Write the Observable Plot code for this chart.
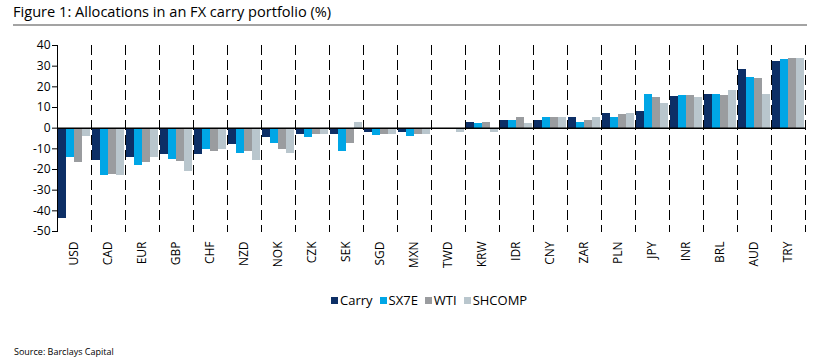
<!DOCTYPE html>
<html><head><meta charset="utf-8">
<script src="https://cdn.jsdelivr.net/npm/d3@7"></script>
<script src="https://cdn.jsdelivr.net/npm/@observablehq/plot@0.6"></script>
<style>
body{margin:0;background:#fff;font-family:"Open Sans",sans-serif;color:#000;}
#wrap{position:relative;width:815px;height:364px;overflow:hidden;background:#fff;}
#title{position:absolute;left:13px;top:1px;font-size:14.6px;white-space:nowrap;}
#rule{position:absolute;left:13px;top:24px;width:794px;height:2px;background:#a3a3a3;}
#chart{position:absolute;left:0;top:0;}
#legend{position:absolute;left:331px;top:291px;display:flex;align-items:center;font-size:13px;white-space:nowrap;}
#legend .item{display:flex;align-items:center;margin-right:7px;}
#legend .sw{display:inline-block;width:7px;height:7px;margin-right:2px;}
#source{position:absolute;left:14px;top:345px;font-size:9px;white-space:nowrap;}
</style></head><body>
<div id="wrap">
<div id="title">Figure 1: Allocations in an FX carry portfolio (%)</div>
<div id="rule"></div>
<div id="chart"></div>
<div id="legend"></div>
<div id="source">Source: Barclays Capital</div>
</div>
<script>
const categories = ["USD","CAD","EUR","GBP","CHF","NZD","NOK","CZK","SEK","SGD","MXN","TWD","KRW","IDR","CNY","ZAR","PLN","JPY","INR","BRL","AUD","TRY"];
const series = ["Carry","SX7E","WTI","SHCOMP"];
const colors = ["#0d2f66","#00a6e6","#9a9c9f","#b9c6cd"];
const carry  = [-43.6,-15.8,-14,-12.9,-12.9,-7.7,-4.5,-3.3,-2.9,-1.9,-1.9,-0.5,2.9,3.8,3.8,5,6.9,8.3,15.5,16.5,28.6,32.5];
const sx7e   = [-14.4,-23.1,-18.1,-15,-10.1,-12.4,-7.5,-4.5,-11.4,-3.6,-4,-0.5,2.4,3.8,5,2.9,5.4,16.5,16,16.5,24.3,33.4];
const wti    = [-16.8,-22.5,-16.8,-16,-11.4,-11.4,-10.2,-3.3,-7.3,-2.9,-2.9,-0.3,2.9,5,5,3.5,6.4,14.6,16,16,23.8,33.8];
const shcomp = [-4,-23.1,-14,-21.2,-10.1,-15.8,-12.4,-3.3,2.9,-2.9,-2.9,-2,-2,2.4,5,5,6.9,11.7,14.6,18.1,16.5,33.8];
const yTicks = [40,30,20,10,0,-10,-20,-30,-40,-50];

const valuesBySeries = [carry, sx7e, wti, shcomp];
const data = [];
categories.forEach((c, i) => {
  valuesBySeries.forEach((arr, j) => data.push({cat: c, series: series[j], value: arr[i]}));
});

const plot = Plot.plot({
  width: 815, height: 295,
  marginTop: 45, marginBottom: 64, marginLeft: 57, marginRight: 10,
  style: {fontFamily: '"Open Sans",sans-serif', fontSize: "12px", color: "#000", background: "transparent"},
  fx: {domain: categories, padding: 0, label: null, tickRotate: -90, tickSize: 0, tickPadding: 10},
  x: {domain: series, padding: 0, axis: null},
  y: {domain: [-50, 40], ticks: yTicks, tickFormat: d => String(d), tickSize: 5, tickPadding: 2, line: true, label: null},
  color: {domain: series, range: colors},
  marks: [
    Plot.frame({anchor: "right", stroke: "#000", strokeDasharray: "9,6"}),
    Plot.barY(data, {fx: "cat", x: "series", y: "value", fill: "series", shapeRendering: "crispEdges"}),
    Plot.ruleY([0], {stroke: "#000", strokeWidth: 1.5})
  ]
});
document.getElementById("chart").appendChild(plot);

const legend = d3.select("#legend");
series.forEach((s, i) => {
  const it = legend.append("div").attr("class", "item");
  it.append("span").attr("class", "sw").style("background", colors[i]);
  it.append("span").text(s);
});
</script>
</body></html>
